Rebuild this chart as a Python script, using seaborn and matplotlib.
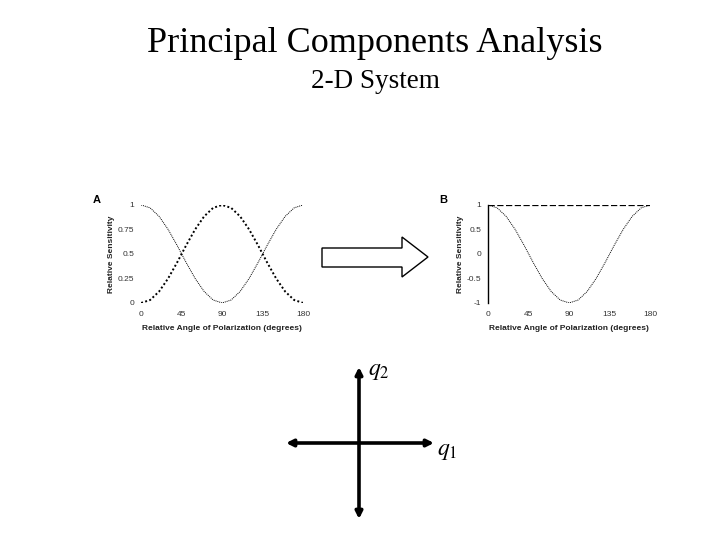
import matplotlib
matplotlib.use('Agg')
import matplotlib.pyplot as plt
import seaborn as sns
import pandas as pd
from matplotlib.patches import Polygon

# Values (every 10 degrees)
angles = [0, 10, 20, 30, 40, 50, 60, 70, 80, 90,
          100, 110, 120, 130, 140, 150, 160, 170, 180]
cos_sq = [1.0, 0.97, 0.883, 0.75, 0.587, 0.413, 0.25, 0.117, 0.03, 0.0,
          0.03, 0.117, 0.25, 0.413, 0.587, 0.75, 0.883, 0.97, 1.0]
sin_sq = [0.0, 0.03, 0.117, 0.25, 0.413, 0.587, 0.75, 0.883, 0.97, 1.0,
          0.97, 0.883, 0.75, 0.587, 0.413, 0.25, 0.117, 0.03, 0.0]
pc1 = [1.0, 1.0, 1.0, 1.0, 1.0, 1.0, 1.0, 1.0, 1.0, 1.0,
       1.0, 1.0, 1.0, 1.0, 1.0, 1.0, 1.0, 1.0, 1.0]
pc2 = [1.0, 0.94, 0.766, 0.5, 0.174, -0.174, -0.5, -0.766, -0.94, -1.0,
       -0.94, -0.766, -0.5, -0.174, 0.174, 0.5, 0.766, 0.94, 1.0]

x_ticks = [0, 45, 90, 135, 180]
a_yticks = [0, 0.25, 0.5, 0.75, 1]
a_ylabels = ['0', '0.25', '0.5', '0.75', '1']
b_yticks = [-1, -0.5, 0, 0.5, 1]
b_ylabels = ['-1', '-0.5', '0', '0.5', '1']

df = pd.DataFrame({'angle': angles, 'cos_sq': cos_sq, 'sin_sq': sin_sq,
                   'pc1': pc1, 'pc2': pc2})

sns.set_style('white')
plt.rcParams['font.family'] = ['Liberation Sans', 'DejaVu Sans']
plt.rcParams['text.color'] = 'black'

fig = plt.figure(figsize=(7.2, 5.4), dpi=100)

serif = ['Liberation Serif', 'DejaVu Serif']
fig.text(0.521, 0.920, 'Principal Components Analysis', ha='center', va='center',
         fontsize=26, family=serif, color='black')
fig.text(0.521, 0.850, '2-D System', ha='center', va='center',
         fontsize=19.5, family=serif, color='black')


def style_panel(ax, yticks, ylabels, ylim, letter, spine):
    ax.set_xlim(0, 180)
    ax.set_ylim(*ylim)
    ax.set_xticks(x_ticks)
    ax.set_xticklabels([str(t) for t in x_ticks])
    ax.set_yticks(yticks)
    ax.set_yticklabels(ylabels)
    ax.tick_params(axis='x', length=0, labelsize=6, pad=6, colors='#333333')
    ax.tick_params(axis='y', length=0, labelsize=6, pad=5, colors='#333333')
    ax.set_xlabel('Relative Angle of Polarization (degrees)', fontsize=6,
                  fontweight='bold', labelpad=5, color='#222222')
    ax.set_ylabel('Relative Sensitivity', fontsize=6, fontweight='bold',
                  labelpad=2, color='#222222')
    for s in ['top', 'right', 'bottom']:
        ax.spines[s].set_visible(False)
    ax.spines['left'].set_visible(spine)
    ax.spines['left'].set_color('black')
    ax.spines['left'].set_linewidth(1.0)
    ax.text(-0.30, 1.05, letter, transform=ax.transAxes, fontsize=8,
            fontweight='bold', va='center', ha='left', color='black')


# Panel A
axA = fig.add_axes([0.196, 0.439, 0.225, 0.1815])
sns.lineplot(data=df, x='angle', y='cos_sq', ax=axA, color='black',
             linewidth=0.7, linestyle=(0, (1, 1)))
sns.lineplot(data=df, x='angle', y='sin_sq', ax=axA, color='black',
             linewidth=1.4, linestyle=(0, (1, 1.2)))
style_panel(axA, a_yticks, a_ylabels, (0, 1), 'A', False)

# Panel B
axB = fig.add_axes([0.678, 0.439, 0.225, 0.1815])
sns.lineplot(data=df, x='angle', y='pc1', ax=axB, color='black',
             linewidth=0.9, linestyle=(0, (5, 2)))
sns.lineplot(data=df, x='angle', y='pc2', ax=axB, color='black',
             linewidth=0.7, linestyle=(0, (1, 1)))
style_panel(axB, b_yticks, b_ylabels, (-1, 1), 'B', True)

# Overlay in pixel coordinates for arrows and diagram
ov = fig.add_axes([0, 0, 1, 1])
ov.set_xlim(0, 720)
ov.set_ylim(540, 0)
ov.axis('off')
ov.patch.set_alpha(0)

block = Polygon([(322, 248), (402, 248), (402, 237), (428, 257),
                 (402, 277), (402, 267), (322, 267)],
                closed=True, facecolor='white', edgecolor='black', linewidth=1.0)
ov.add_patch(block)

cx, cy = 359, 443
arrow_kw = dict(arrowstyle='<|-|>', color='black', lw=2.6,
                mutation_scale=10, shrinkA=0, shrinkB=0)
ov.annotate('', xy=(cx, 367), xytext=(cx, 519), arrowprops=arrow_kw)
ov.annotate('', xy=(286, cy), xytext=(434, cy), arrowprops=arrow_kw)
ov.text(368, 372, r'$q_2$', fontsize=17, ha='left', va='center',
        family=serif, math_fontfamily='stix', color='black')
ov.text(437, 451, r'$q_1$', fontsize=17, ha='left', va='center',
        family=serif, math_fontfamily='stix', color='black')

fig.savefig('out.png', dpi=100, facecolor='white')
